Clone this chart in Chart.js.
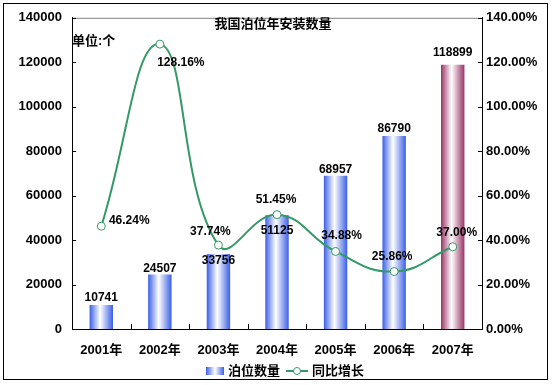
<!DOCTYPE html>
<html>
<head>
<meta charset="utf-8">
<script src="https://cdn.jsdelivr.net/npm/chart.js@4.4.1/dist/chart.umd.min.js"></script>
<style>
  body { margin: 0; background: #ffffff; }
  #wrap { width: 553px; height: 385px; }
</style>
</head>
<body>
<div id="wrap"><canvas id="berthChart" width="553" height="385"></canvas></div>
<script>
// data
const years = ['2001年', '2002年', '2003年', '2004年', '2005年', '2006年', '2007年'];
const berthCounts = [10741, 24507, 33756, 51125, 68957, 86790, 118899];
const growthPct = [46.24, 128.16, 37.74, 51.45, 34.88, 25.86, 37.00];
const countTicks = [0, 20000, 40000, 60000, 80000, 100000, 120000, 140000];

const FONT = '"Liberation Sans", "Noto Sans CJK SC", sans-serif';
const lineColor = '#339966';

// label nudges (px) so the labels sit where Excel put them
const barLabelDy = [-7, -6, 7, 15, -6, -7, -12];
const pctLabelOffset = [[28, -6], [21, 19], [-8, -13], [-1, -15], [6, -16], [-2, -15], [4, -14]];

const barGradient = (chart, index) => {
    const xs = chart.scales.x;
    const edge = index === years.length - 1 ? '#993366' : '#3b5fe6';
    if (!xs || !chart.chartArea) return edge;
    const cx = xs.getPixelForValue(index);
    const w = (xs.width / years.length) * 0.4;
    const g = chart.ctx.createLinearGradient(cx - w / 2, 0, cx + w / 2, 0);
    g.addColorStop(0, edge);
    g.addColorStop(0.45, '#ffffff');
    g.addColorStop(1, edge);
    return g;
};

const decorPlugin = {
    id: 'decor',
    afterDraw(chart) {
        const { ctx, chartArea: a } = chart;
        ctx.save();
        // outer frame
        ctx.strokeStyle = '#000000';
        ctx.lineWidth = 1;
        ctx.strokeRect(3.5, 3.5, 544, 376);
        // top edge of plot area
        ctx.strokeStyle = '#808080';
        ctx.beginPath();
        ctx.moveTo(a.left, a.top + 0.5);
        ctx.lineTo(a.right, a.top + 0.5);
        ctx.stroke();
        // inward tick marks
        ctx.strokeStyle = '#000000';
        ctx.beginPath();
        chart.scales.y.ticks.forEach(t => {
            const y = Math.round(chart.scales.y.getPixelForValue(t.value)) + 0.5;
            ctx.moveTo(a.left, y); ctx.lineTo(a.left + 4, y);
        });
        chart.scales.y1.ticks.forEach(t => {
            const y = Math.round(chart.scales.y1.getPixelForValue(t.value)) + 0.5;
            ctx.moveTo(a.right - 4, y); ctx.lineTo(a.right, y);
        });
        const cw = (a.right - a.left) / years.length;
        for (let i = 1; i < years.length; i++) {
            const x = Math.round(a.left + cw * i) + 0.5;
            ctx.moveTo(x, a.bottom); ctx.lineTo(x, a.bottom - 5);
        }
        ctx.stroke();

        // title and unit
        ctx.fillStyle = '#000000';
        ctx.font = 'bold 13px ' + FONT;
        ctx.textBaseline = 'middle';
        ctx.textAlign = 'center';
        ctx.fillText('我国泊位年安装数量', 273, 24);
        ctx.textAlign = 'left';
        ctx.fillText('单位:个', a.left, 41);

        // data labels
        ctx.font = 'bold 12px ' + FONT;
        ctx.textAlign = 'center';
        chart.getDatasetMeta(1).data.forEach((el, i) => {
            ctx.fillText(String(berthCounts[i]), el.x, el.y + barLabelDy[i]);
        });
        chart.getDatasetMeta(0).data.forEach((el, i) => {
            const [dx, dy] = pctLabelOffset[i];
            ctx.fillText(growthPct[i].toFixed(2) + '%', el.x + dx, el.y + dy);
        });

        // legend
        const ly = 371;
        const sw = ctx.createLinearGradient(206, 0, 224, 0);
        sw.addColorStop(0, '#3b5fe6');
        sw.addColorStop(0.5, '#ffffff');
        sw.addColorStop(1, '#3b5fe6');
        ctx.fillStyle = sw;
        ctx.fillRect(206, ly - 4, 18, 8);
        ctx.fillStyle = '#000000';
        ctx.font = 'bold 13px ' + FONT;
        ctx.textAlign = 'left';
        ctx.fillText(chart.data.datasets[1].label, 228, ly);
        ctx.strokeStyle = lineColor;
        ctx.lineWidth = 2;
        ctx.beginPath();
        ctx.moveTo(286, ly); ctx.lineTo(308, ly);
        ctx.stroke();
        ctx.fillStyle = '#ffffff';
        ctx.lineWidth = 1;
        ctx.beginPath();
        ctx.arc(297, ly, 3.5, 0, Math.PI * 2);
        ctx.fill(); ctx.stroke();
        ctx.fillStyle = '#000000';
        ctx.fillText(chart.data.datasets[0].label, 312, ly);
        ctx.restore();
    }
};

new Chart(document.getElementById('berthChart'), {
    data: {
        labels: years,
        datasets: [
            {
                type: 'line',
                label: '同比增长',
                data: growthPct,
                yAxisID: 'y1',
                borderColor: lineColor,
                borderWidth: 2,
                tension: 0.45,
                pointRadius: 4,
                pointBackgroundColor: '#ffffff',
                pointBorderColor: lineColor,
                pointBorderWidth: 1,
                order: 0
            },
            {
                type: 'bar',
                label: '泊位数量',
                data: berthCounts,
                yAxisID: 'y',
                backgroundColor: (c) => barGradient(c.chart, c.dataIndex),
                barPercentage: 0.4,
                categoryPercentage: 1,
                order: 1
            }
        ]
    },
    options: {
        responsive: false,
        animation: false,
        layout: { padding: { left: 4, right: 4, top: 15, bottom: 28 } },
        plugins: {
            legend: { display: false },
            tooltip: { enabled: false }
        },
        scales: {
            x: {
                offset: true,
                grid: { display: false, drawTicks: false },
                border: { color: '#000000', width: 1 },
                ticks: { color: '#000000', font: { family: FONT, size: 13, weight: 'bold' }, padding: 14 },
                afterFit: (s) => { s.height = 28; }
            },
            y: {
                position: 'left',
                min: 0,
                max: 140000,
                afterBuildTicks: (s) => { s.ticks = countTicks.map(v => ({ value: v })); },
                grid: { display: false, drawTicks: false },
                border: { color: '#000000', width: 1 },
                ticks: {
                    color: '#000000',
                    font: { family: FONT, size: 13, weight: 'bold' },
                    padding: 10,
                    callback: (v) => String(v)
                },
                afterFit: (s) => { s.width = 68; }
            },
            y1: {
                position: 'right',
                min: 0,
                max: 140,
                ticks: {
                    stepSize: 20,
                    color: '#000000',
                    font: { family: FONT, size: 13, weight: 'bold' },
                    padding: 4,
                    callback: (v) => v.toFixed(2) + '%'
                },
                grid: { display: false, drawTicks: false },
                border: { color: '#000000', width: 1 },
                afterFit: (s) => { s.width = 67; }
            }
        }
    },
    plugins: [decorPlugin]
});
</script>
</body>
</html>
